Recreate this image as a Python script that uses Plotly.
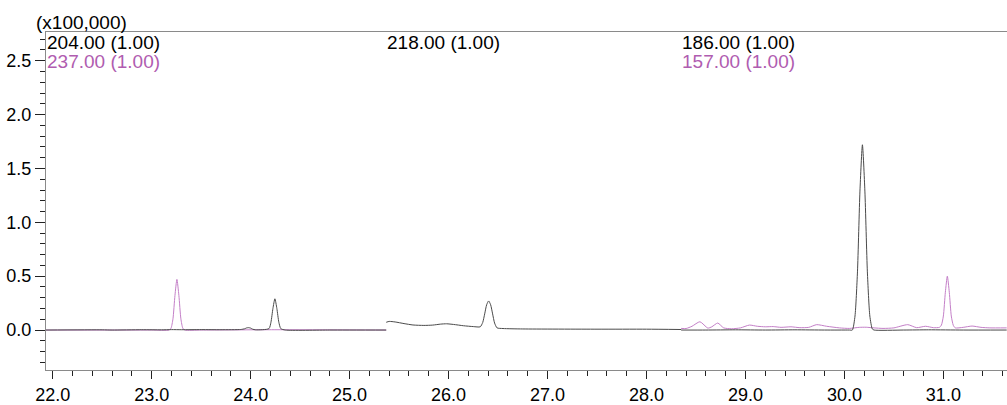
import plotly.graph_objects as go

# ---- data (intensity in units of 100,000) ----
seg1_t_204 = [21.93, 22.5, 22.6, 22.9, 23.1, 23.2, 23.3, 23.5, 23.7, 23.9, 23.94, 23.96, 23.98, 24.00, 24.02, 24.05,
              24.185, 24.205, 24.225, 24.245, 24.265, 24.285, 24.305, 24.35, 24.8, 25.37]
seg1_i_204 = [0.0, 0.002, 0.0, 0.003, 0.002, 0.004, 0.003, 0.004, 0.003, 0.005, 0.012, 0.02, 0.022, 0.018, 0.008, 0.002,
              0.013, 0.072, 0.20, 0.29, 0.20, 0.072, 0.013, 0.0, 0.0, 0.0]

seg1_t_237 = [21.93, 23.0, 23.175, 23.195, 23.215, 23.235, 23.255, 23.275, 23.295, 23.315, 23.335, 23.5, 24.245, 25.37]
seg1_i_237 = [0.0, 0.0, 0.0, 0.016, 0.104, 0.32, 0.47, 0.32, 0.104, 0.016, 0.0, 0.0, 0.003, 0.0]

seg2_t_218 = [25.37, 25.40, 25.46, 25.55, 25.64, 25.75, 25.84, 25.92, 25.98, 26.05, 26.15, 26.25, 26.32,
              26.345, 26.365, 26.385, 26.405, 26.425, 26.445, 26.465, 26.49, 26.55, 26.75, 27.5, 28.0, 28.35]
seg2_i_218 = [0.072, 0.08, 0.075, 0.06, 0.047, 0.043, 0.046, 0.055, 0.058, 0.052, 0.04, 0.032, 0.03,
              0.07, 0.15, 0.235, 0.27, 0.235, 0.15, 0.065, 0.02, 0.014, 0.01, 0.008, 0.008, 0.005]

seg3_t_186 = [28.35, 28.6, 28.9, 29.2, 29.5, 29.8, 30.05, 30.08, 30.107, 30.132, 30.157, 30.182, 30.207, 30.232,
              30.257, 30.282, 30.30, 30.6, 30.85, 31.2, 31.64]
seg3_i_186 = [0.0, 0.0, 0.002, 0.0, 0.002, 0.0, 0.0, 0.0, 0.13, 0.54, 1.29, 1.72, 1.29, 0.54,
              0.13, 0.01, 0.0, 0.0, 0.002, 0.0, 0.0]

seg3_t_157 = [28.35, 28.40, 28.46, 28.54, 28.62, 28.66, 28.72, 28.78, 28.86, 28.95, 29.04, 29.12, 29.2, 29.28,
              29.36, 29.46, 29.55, 29.64, 29.72, 29.82, 29.95, 30.05, 30.15, 30.22, 30.3, 30.39, 30.5, 30.64,
              30.73, 30.82, 30.9, 30.96, 30.98, 31.0, 31.02, 31.04, 31.06, 31.08, 31.10, 31.12, 31.2, 31.29,
              31.38, 31.47, 31.64]
seg3_i_157 = [0.015, 0.014, 0.035, 0.077, 0.018, 0.03, 0.065, 0.02, 0.012, 0.02, 0.046, 0.035, 0.03, 0.032,
              0.025, 0.03, 0.022, 0.025, 0.05, 0.035, 0.02, 0.015, 0.025, 0.026, 0.02, 0.015, 0.02, 0.05,
              0.022, 0.035, 0.022, 0.025, 0.045, 0.13, 0.35, 0.5, 0.35, 0.13, 0.045, 0.02, 0.025, 0.037,
              0.025, 0.02, 0.02]

segment_starts = [21.93, 25.37, 28.35]
labels_black = ["204.00 (1.00)", "218.00 (1.00)", "186.00 (1.00)"]
labels_magenta = ["237.00 (1.00)", None, "157.00 (1.00)"]

BLACK_LINE = "#4a4a4a"
MAG_LINE = "#c47fc8"
MAG_TEXT = "#b05cb0"
FONT = "Liberation Sans, Arial, sans-serif"

fig = go.Figure()

def add(t, i, color):
    fig.add_trace(go.Scatter(x=t, y=i, mode="lines",
                             line=dict(color=color, width=1, shape="spline", smoothing=0.6),
                             hoverinfo="skip", showlegend=False))

add(seg1_t_237, seg1_i_237, MAG_LINE)
add(seg3_t_157, seg3_i_157, MAG_LINE)
add(seg1_t_204, seg1_i_204, BLACK_LINE)
add(seg2_t_218, seg2_i_218, BLACK_LINE)
add(seg3_t_186, seg3_i_186, BLACK_LINE)

annotations = []
for k, x0 in enumerate(segment_starts):
    xref = "paper" if k == 0 else "x"
    xv = 0 if k == 0 else x0
    annotations.append(dict(x=xv, xref=xref, y=1, yref="paper", yanchor="middle", xanchor="left",
                            yshift=-10, xshift=-1, text=labels_black[k], showarrow=False,
                            font=dict(family=FONT, size=19, color="#000000")))
    if labels_magenta[k]:
        annotations.append(dict(x=xv, xref=xref, y=1, yref="paper", yanchor="middle", xanchor="left",
                                yshift=-29, xshift=-1, text=labels_magenta[k], showarrow=False,
                                font=dict(family=FONT, size=19, color=MAG_TEXT)))
annotations.append(dict(x=0, xref="paper", y=1, yref="paper", xanchor="left", yanchor="middle",
                        xshift=-12, yshift=10, text="(x100,000)", showarrow=False,
                        font=dict(family=FONT, size=19, color="#000000")))

fig.update_layout(
    width=1007, height=405,
    margin=dict(l=46, r=0, t=32, b=32),
    paper_bgcolor="white", plot_bgcolor="white",
    annotations=annotations,
    font=dict(family=FONT, size=18, color="#000000"),
    xaxis=dict(range=[21.932, 31.643], tick0=22, dtick=1, tickformat=".1f",
               ticks="outside", ticklen=8, tickcolor="#222222", tickwidth=1,
               minor=dict(dtick=0.2, tick0=22, ticks="outside", ticklen=5, tickcolor="#222222"),
               showline=True, linecolor="#8a8a8a", linewidth=1, mirror=True,
               showgrid=False, zeroline=False,
               tickfont=dict(family=FONT, size=18, color="#000000")),
    yaxis=dict(range=[-0.371, 2.767], tick0=0, dtick=0.5, tickformat=".1f",
               ticks="outside", ticklen=10, tickcolor="#222222", tickwidth=1,
               minor=dict(dtick=0.1, tick0=0, ticks="outside", ticklen=5, tickcolor="#222222"),
               showline=True, linecolor="#8a8a8a", linewidth=1,
               showgrid=False, zeroline=False,
               tickfont=dict(family=FONT, size=18, color="#000000")),
)

fig.write_html("out.html", config={"displayModeBar": False},
               post_script="document.body.style.margin='0';document.body.style.overflow='hidden';")
